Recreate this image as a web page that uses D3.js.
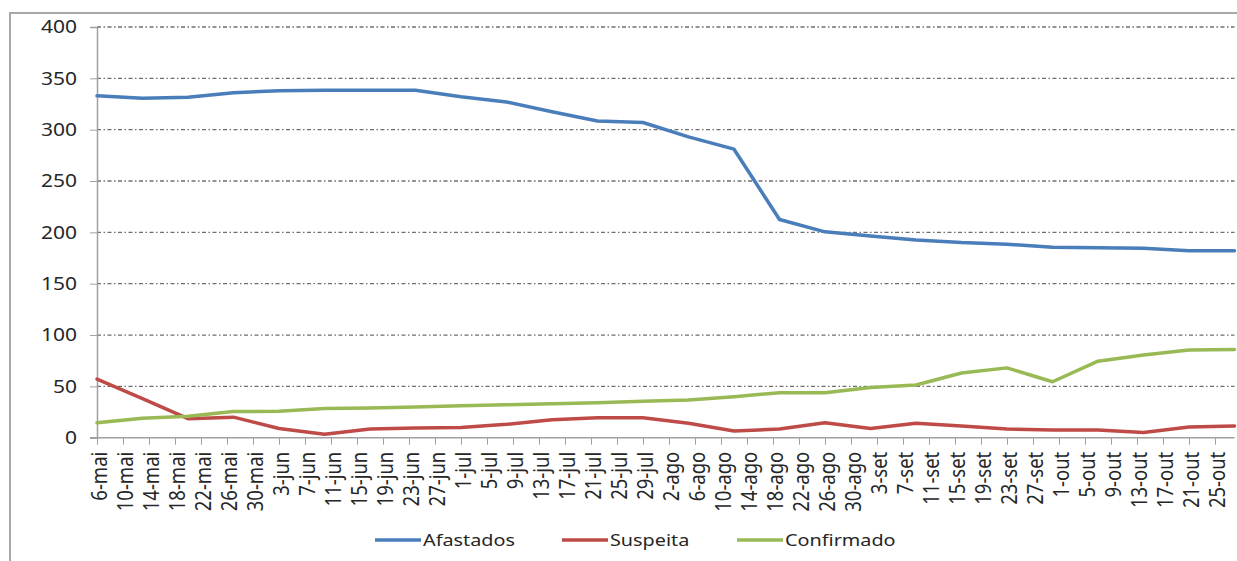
<!DOCTYPE html>
<html>
<head>
<meta charset="utf-8">
<script src="https://cdn.jsdelivr.net/npm/d3@7"></script>
<style>
  body { margin: 0; background: #fff; }
  text { font-family: "Noto Sans", sans-serif; fill: #262626; }
</style>
</head>
<body>
<svg id="chart" width="1237" height="561"></svg>
<script>
// weekly readings
const dates = ["2020-05-06","2020-05-13","2020-05-20","2020-05-27","2020-06-03","2020-06-10","2020-06-17",
  "2020-06-24","2020-07-01","2020-07-08","2020-07-15","2020-07-22","2020-07-29","2020-08-05","2020-08-12",
  "2020-08-19","2020-08-26","2020-09-02","2020-09-09","2020-09-16","2020-09-23","2020-09-30","2020-10-07",
  "2020-10-14","2020-10-21","2020-10-28"];
const afastados = [333, 330.5, 331.5, 336, 338, 338.5, 338.5, 338.5, 332, 327, 317.5, 308.5, 307, 293, 281,
  212.5, 200.5, 196.5, 192.5, 190, 188.5, 185.5, 185, 184.5, 182, 182];
const suspeita = [57, 38, 18.5, 20, 9, 3.3, 8.5, 9.5, 10, 13, 17.5, 19.5, 19.5, 14, 6.5,
  8.5, 14.5, 9, 14, 11.5, 8.5, 7.5, 7.5, 5, 10.5, 11.5];
const confirmado = [14.6, 19, 21, 25.5, 25.7, 28.5, 29, 30, 31, 32, 33, 34, 35.5, 36.7, 40,
  43.8, 43.8, 49, 51.3, 63, 68, 54.5, 74.5, 80.5, 85.5, 86];
const seriesNames = ["Afastados", "Suspeita", "Confirmado"];
const colors = ["#4a7ebb", "#be4b48", "#98b954"];
const yTicks = [0, 50, 100, 150, 200, 250, 300, 350, 400];
const meses = ["jan","fev","mar","abr","mai","jun","jul","ago","set","out","nov","dez"];
const tickStart = "2020-05-06", tickEnd = "2020-10-25"; // a label every 4 days

const svg = d3.select("#chart");
const plotL = 97, plotR = 1234.5, plotT = 27, plotB = 437.7;
const sx = 1.2; // text in the picture is stretched sideways

const parse = d3.utcParse("%Y-%m-%d");
const x = d3.scaleUtc().domain([parse("2020-05-06"), parse("2020-10-28")]).range([plotL, plotR]);
const y = d3.scaleLinear().domain([0, 400]).range([plotB, plotT]);

// outer frame
svg.append("rect").attr("x", 10).attr("y", 13).attr("width", 1240).attr("height", 560)
  .attr("fill", "none").attr("stroke", "#a8a8a8").attr("stroke-width", 2);

// grid lines
svg.append("g").selectAll("line").data(yTicks.filter(d => d > 0)).join("line")
  .attr("x1", plotL).attr("x2", plotR)
  .attr("y1", d => y(d)).attr("y2", d => y(d))
  .attr("stroke", "#6e6e6e").attr("stroke-width", 1.3)
  .attr("stroke-dasharray", "4,2.5,1.5,2.5");

// y axis
const yAxis = svg.append("g").attr("transform", `translate(${plotL},0)`)
  .call(d3.axisLeft(y).tickValues(yTicks).tickSize(7).tickFormat(d => ""));
yAxis.select(".domain").attr("stroke", "#a0a0a0").attr("stroke-width", 1.5);
yAxis.selectAll(".tick line").attr("stroke", "#a0a0a0");
svg.append("g").selectAll("text").data(yTicks).join("text")
  .attr("transform", d => `translate(77,${y(d)}) scale(${sx},1)`)
  .attr("text-anchor", "end").attr("dy", "0.36em")
  .style("font-size", "17.5px")
  .text(d => d);

// x axis
const tickDates = d3.utcDay.range(parse(tickStart), d3.utcDay.offset(parse(tickEnd), 1), 4);
const xAxis = svg.append("g").attr("transform", `translate(0,${plotB})`)
  .call(d3.axisBottom(x).tickValues(tickDates).tickSize(7).tickFormat(d => ""));
xAxis.select(".domain").attr("stroke", "#a0a0a0").attr("stroke-width", 1.5)
  .attr("d", `M${plotL - 7},0H${plotR}`);
xAxis.selectAll(".tick line").attr("stroke", "#a0a0a0");
svg.append("g").selectAll("text").data(tickDates).join("text")
  .attr("transform", d => `translate(${x(d) + 2},${plotB + 14}) scale(${sx},1) rotate(-90)`)
  .attr("text-anchor", "end").attr("dy", "0.36em")
  .style("font-size", "18.5px")
  .text(d => `${d.getUTCDate()}-${meses[d.getUTCMonth()]}`);

// lines
const series = [afastados, suspeita, confirmado];
const line = d3.line().x((d, i) => x(parse(dates[i]))).y(d => y(d));
series.forEach((s, k) => {
  svg.append("path").datum(s)
    .attr("d", line)
    .attr("fill", "none")
    .attr("stroke", colors[k])
    .attr("stroke-width", 3.5)
    .attr("stroke-linejoin", "round")
    .attr("stroke-linecap", "round");
});

// legend
const legendX = [375, 562, 737];
const legend = svg.append("g");
seriesNames.forEach((name, k) => {
  legend.append("line")
    .attr("x1", legendX[k]).attr("x2", legendX[k] + 46)
    .attr("y1", 540).attr("y2", 540)
    .attr("stroke", colors[k]).attr("stroke-width", 3.5);
  legend.append("text")
    .attr("transform", `translate(${legendX[k] + 48},540) scale(${sx},1)`)
    .attr("dy", "0.36em")
    .style("font-size", "16.5px")
    .text(name);
});
</script>
</body>
</html>
